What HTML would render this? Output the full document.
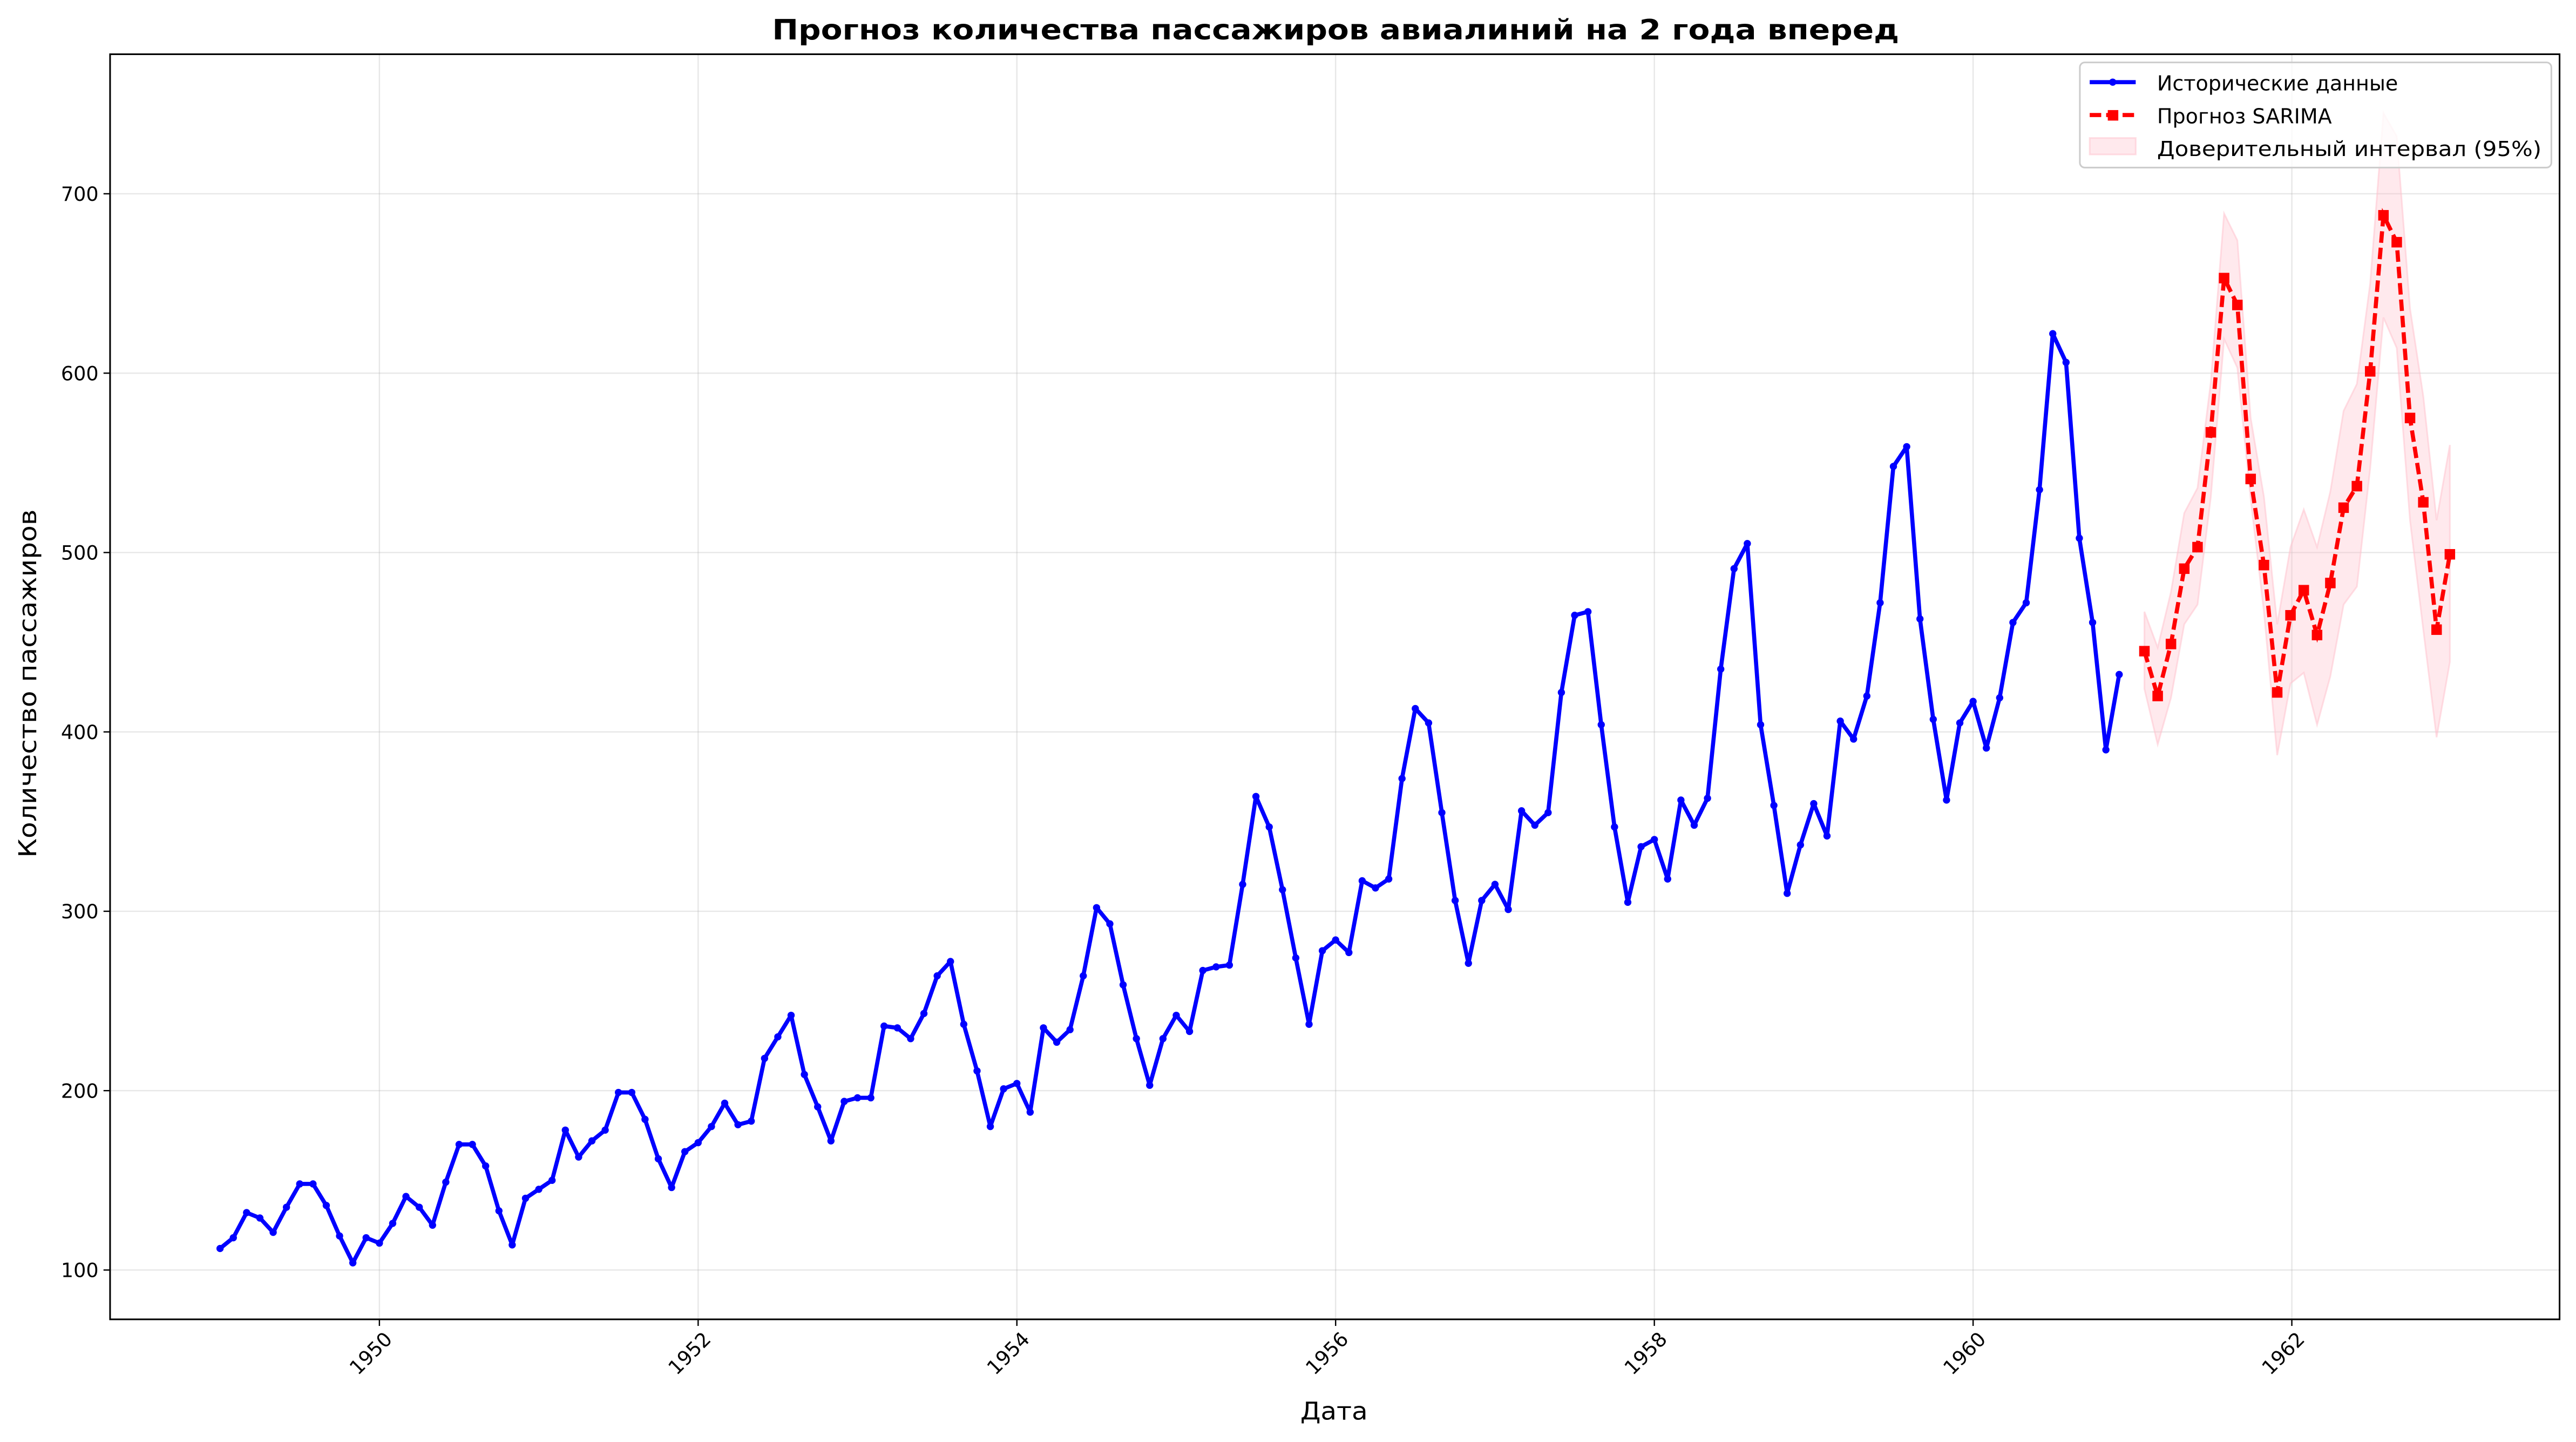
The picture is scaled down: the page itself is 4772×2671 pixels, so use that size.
<!DOCTYPE html>
<html><head><meta charset="utf-8">
<style>
html,body{margin:0;padding:0;background:#fff;}
svg{display:block;}
text{font-family:"DejaVu Sans","Liberation Sans",sans-serif;}
</style></head>
<body>
<svg id="chart" width="4772" height="2671" viewBox="0 0 1568 877.65" xmlns="http://www.w3.org/2000/svg"></svg>
<script>
const histValues = [112,118,132,129,121,135,148,148,136,119,104,118,
115,126,141,135,125,149,170,170,158,133,114,140,
145,150,178,163,172,178,199,199,184,162,146,166,
171,180,193,181,183,218,230,242,209,191,172,194,
196,196,236,235,229,243,264,272,237,211,180,201,
204,188,235,227,234,264,302,293,259,229,203,229,
242,233,267,269,270,315,364,347,312,274,237,278,
284,277,317,313,318,374,413,405,355,306,271,306,
315,301,356,348,355,422,465,467,404,347,305,336,
340,318,362,348,363,435,491,505,404,359,310,337,
360,342,406,396,420,472,548,559,463,407,362,405,
417,391,419,461,472,535,622,606,508,461,390,432];
const histStartYear = 1949;
const forecastValues = [445,420,449,491,503,567,653,638,541,493,422,465,479,454,483,525,537,601,688,673,575,528,457,499];
const ciLower = [424,393,419,460,471,531,619,603,530,467,387,427,433,404,431,471,481,547,631,614,518,457,397,439];
const ciUpper = [467,447,478,522,536,595,689,674,575,531,460,503,524,503,534,579,594,650,745,732,636,587,518,560];
const forecastStartYear = 1961;
const xTicks = [1950,1952,1954,1956,1958,1960,1962];
const yTicks = [100,200,300,400,500,600,700];

const L=67,R=1558,T=33,B=803;
const xMin=1948.31,xMax=1963.68,yMin=72.5,yMax=777.8;
const xs=v=>L+(v-xMin)/(xMax-xMin)*(R-L);
const ys=v=>B-(v-yMin)/(yMax-yMin)*(B-T);
const NS="http://www.w3.org/2000/svg";
const svg=document.getElementById('chart');
function mk(tag,attrs,parent){const e=document.createElementNS(NS,tag);for(const k in attrs)e.setAttribute(k,attrs[k]);(parent||svg).appendChild(e);return e;}

mk('rect',{x:0,y:0,width:1568,height:877.65,fill:'#fff'});
const grid=mk('g',{});


xTicks.forEach(t=>{mk('line',{x1:xs(t),x2:xs(t),y1:T,y2:B,stroke:'#b0b0b0','stroke-opacity':0.3,'stroke-width':0.8},grid);});
yTicks.forEach(t=>{mk('line',{x1:L,x2:R,y1:ys(t),y2:ys(t),stroke:'#b0b0b0','stroke-opacity':0.3,'stroke-width':0.8},grid);});

const hx=i=>histStartYear+i/12;
const fx=i=>forecastStartYear+(i+0.9)/12;
let d='';
ciUpper.forEach((v,i)=>{d+=(i?'L':'M')+xs(fx(i))+','+ys(v);});
for(let i=ciLower.length-1;i>=0;i--)d+='L'+xs(fx(i))+','+ys(ciLower[i]);
const band=mk('path',{d:d+'Z',fill:'#ffc0cb','fill-opacity':0.35,stroke:'#ffc0cb','stroke-opacity':0.5,'stroke-width':1});



const hp=histValues.map((v,i)=>xs(hx(i))+','+ys(v)).join(' ');
const hl=mk('polyline',{points:hp,fill:'none',stroke:'#0000ff','stroke-width':2.5,'stroke-linejoin':'round'});


histValues.forEach((v,i)=>{const c=mk('circle',{cx:xs(hx(i)),cy:ys(v),r:2.2,fill:'#0000ff'});

});

const fp=forecastValues.map((v,i)=>xs(fx(i))+','+ys(v)).join(' ');
const fl=mk('polyline',{points:fp,fill:'none',stroke:'#ff0000','stroke-width':2.5,'stroke-dasharray':'7,3'});


forecastValues.forEach((v,i)=>{const s=mk('rect',{x:xs(fx(i))-3.2,y:ys(v)-3.2,width:6.4,height:6.4,fill:'#ff0000'});

});

const fr=mk('rect',{x:L,y:T,width:R-L,height:B-T,fill:'none',stroke:'#000','stroke-width':1});



xTicks.forEach(t=>{const x=xs(t);mk('line',{x1:x,x2:x,y1:B,y2:B+4,stroke:'#000','stroke-width':0.8});
const tx=mk('text',{x:x,y:B+10,'font-size':12,'text-anchor':'end',transform:`rotate(-45 ${x} ${B+10})`,dx:4,dy:8});
tx.textContent=t;

});
yTicks.forEach(t=>{const y=ys(t);mk('line',{x1:L-4,x2:L,y1:y,y2:y,stroke:'#000','stroke-width':0.8});
const tx=mk('text',{x:L-7,y:y+4.3,'font-size':12,'text-anchor':'end'});
tx.textContent=t;

});

const title=mk('text',{x:813,y:24,'font-size':17,'font-weight':'bold','text-anchor':'middle',textLength:686,lengthAdjust:'spacingAndGlyphs'});
title.textContent='Прогноз количества пассажиров авиалиний на 2 года вперед';


const xl=mk('text',{x:812,y:864,'font-size':15,'text-anchor':'middle',textLength:41,lengthAdjust:'spacingAndGlyphs'});
xl.textContent='Дата';


const yl=mk('text',{x:22,y:416,'font-size':15,'text-anchor':'middle',transform:'rotate(-90 22 416)',textLength:212,lengthAdjust:'spacingAndGlyphs'});
yl.textContent='Количество пассажиров';



const lg=mk('g',{});


mk('rect',{x:1266,y:38,width:287,height:64,rx:3,fill:'#fff','fill-opacity':0.8,stroke:'#ccc','stroke-width':1},lg);
const e1=mk('g',{},lg);


mk('line',{x1:1272,x2:1300,y1:50,y2:50,stroke:'#0000ff','stroke-width':2.5},e1);
mk('circle',{cx:1286,cy:50,r:2.2,fill:'#0000ff'},e1);
const t1=mk('text',{x:1313,y:55,'font-size':12.5},e1);t1.textContent='Исторические данные';
const e2=mk('g',{},lg);


mk('line',{x1:1272,x2:1300,y1:70,y2:70,stroke:'#ff0000','stroke-width':2.5,'stroke-dasharray':'7,3'},e2);
mk('rect',{x:1283,y:67,width:6.4,height:6.4,fill:'#ff0000'},e2);
const t2=mk('text',{x:1313,y:75,'font-size':12.5},e2);t2.textContent='Прогноз SARIMA';
const e3=mk('g',{},lg);


mk('rect',{x:1272,y:84,width:28,height:10,fill:'#ffc0cb','fill-opacity':0.35,stroke:'#ffc0cb','stroke-opacity':0.5},e3);
const t3=mk('text',{x:1313,y:95,'font-size':12.5,textLength:234,lengthAdjust:'spacingAndGlyphs'},e3);t3.textContent='Доверительный интервал (95%)';
</script>
</body></html>
